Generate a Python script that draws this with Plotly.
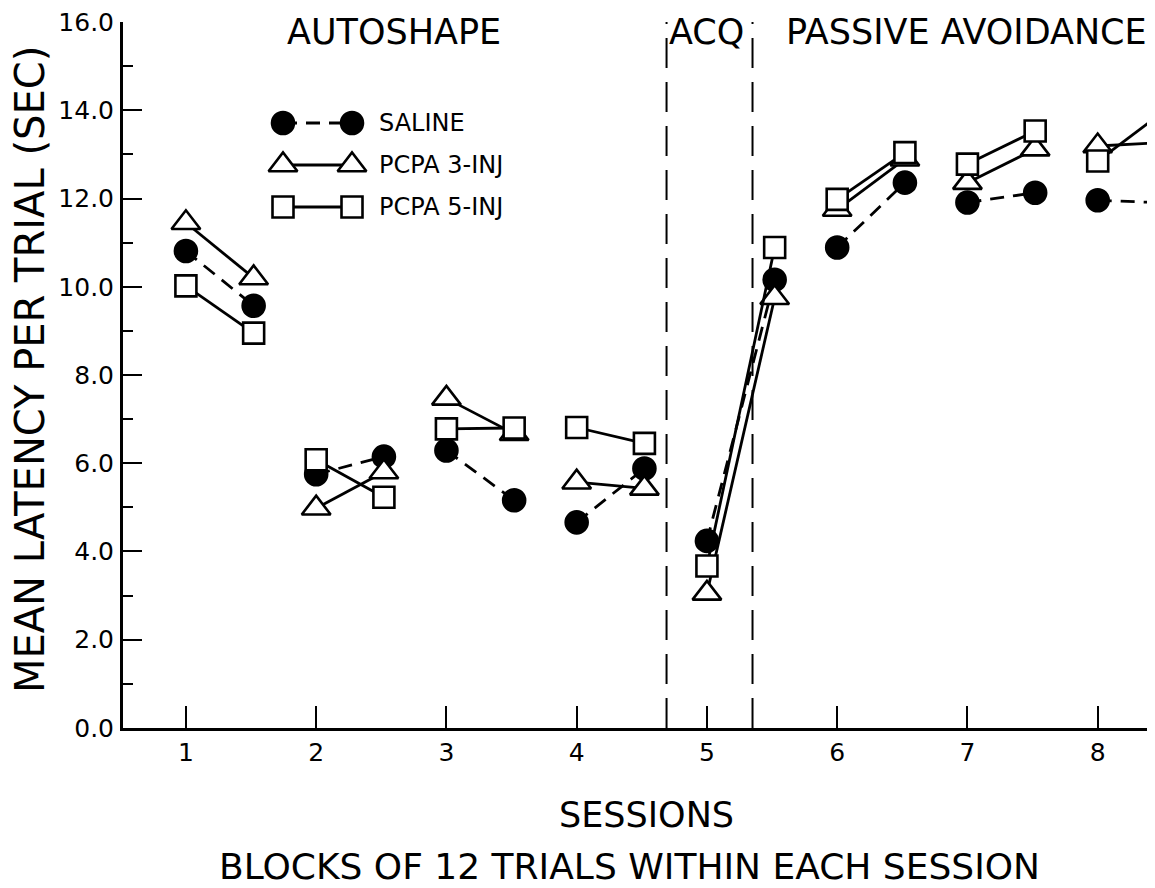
import plotly.graph_objects as go

# ---------------- data ----------------
sessions = [1, 2, 3, 4, 5, 6, 7, 8]
block_offset = 0.52  # second block of 12 trials within each session

saline_b1 = [10.81, 5.75, 6.29, 4.66, 4.24, 10.89, 11.91, 11.96]
saline_b2 = [9.57, 6.15, 5.16, 5.88, 10.16, 12.36, 12.13, 11.90]
pcpa3_b1 = [11.45, 4.98, 7.47, 5.57, 3.05, 11.75, 12.36, 13.19]
pcpa3_b2 = [10.20, 5.80, 6.67, 5.43, 9.75, 12.89, 13.12, 13.27]
pcpa5_b1 = [10.02, 6.08, 6.78, 6.81, 3.67, 11.98, 12.78, 12.85]
pcpa5_b2 = [8.95, 5.23, 6.80, 6.45, 10.89, 13.04, 13.53, 14.00]

series_names = ["SALINE", "PCPA 3-INJ", "PCPA 5-INJ"]
phase_labels = ["AUTOSHAPE", "ACQ", "PASSIVE AVOIDANCE"]
phase_label_x = [2.6, 5.0, 6.99]
phase_bounds = [4.69, 5.35]
y_ticks = [0, 2, 4, 6, 8, 10, 12, 14, 16]

FONT = "DejaVu Sans"


def pairs(b1, b2):
    xs, ys = [], []
    for s, a, b in zip(sessions, b1, b2):
        xs += [s, s + block_offset, None]
        ys += [a, b, None]
    return xs, ys


styles = [
    dict(symbol="circle", size=22, color="black", dash="14px,9px"),
    dict(symbol="triangle-up", size=25, color="white", dash="solid"),
    dict(symbol="square", size=21, color="white", dash="solid"),
]
data = [(saline_b1, saline_b2), (pcpa3_b1, pcpa3_b2), (pcpa5_b1, pcpa5_b2)]

fig = go.Figure()
for name, (b1, b2), st in zip(series_names, data, styles):
    xs, ys = pairs(b1, b2)
    fig.add_trace(go.Scatter(
        x=xs, y=ys, mode="lines+markers", name=name, showlegend=False,
        line=dict(color="black", width=2.8, dash=st["dash"]),
        marker=dict(symbol=st["symbol"], size=st["size"], color=st["color"],
                    line=dict(color="black", width=2.6)),
        cliponaxis=True,
    ))

# ---------- hand-drawn style legend on an overlay axis (pixel units) ----------
legend_rows = [123, 165, 207]
for name, st, yy in zip(series_names, styles, legend_rows):
    fig.add_trace(go.Scatter(
        x=[283, 352], y=[yy, yy], xaxis="x2", yaxis="y2", mode="lines+markers",
        showlegend=False, hoverinfo="skip",
        line=dict(color="black", width=2.8, dash=st["dash"]),
        marker=dict(symbol=st["symbol"], size=st["size"], color=st["color"],
                    line=dict(color="black", width=2.6)),
    ))
    fig.add_annotation(x=377, y=yy, xref="x2", yref="y2", text=name,
                       showarrow=False, xanchor="left", yanchor="middle",
                       font=dict(family=FONT, size=24, color="black"))

# phase separators
for xb in phase_bounds:
    fig.add_shape(type="line", xref="x", yref="paper", x0=xb, x1=xb, y0=0, y1=1.0,
                  line=dict(color="black", width=2, dash="30px,14px"))

# phase labels
for lab, xl in zip(phase_labels, phase_label_x):
    fig.add_annotation(x=xl, y=1.0, xref="x", yref="paper", text=lab,
                       showarrow=False, xanchor="center", yanchor="middle",
                       yshift=-10,
                       font=dict(family=FONT, size=35, color="black"))

# axis titles
fig.add_annotation(x=0, y=0.507, xref="paper", yref="paper",
                   text="MEAN LATENCY PER TRIAL (SEC)", textangle=-90,
                   showarrow=False, xanchor="center", yanchor="middle", xshift=-93,
                   font=dict(family=FONT, size=40, color="black"))
fig.add_annotation(x=0.507, y=0, xref="paper", yref="paper", text="SESSIONS",
                   showarrow=False, xanchor="center", yanchor="middle", yshift=-87,
                   font=dict(family=FONT, size=35, color="black"))
fig.add_annotation(x=0.491, y=0, xref="paper", yref="paper",
                   text="BLOCKS OF 12 TRIALS WITHIN EACH SESSION",
                   showarrow=False, xanchor="center", yanchor="middle", yshift=-138,
                   font=dict(family=FONT, size=36, color="black"))

fig.update_layout(
    width=1147, height=880,
    margin=dict(l=115, r=0, t=14, b=160),
    paper_bgcolor="white", plot_bgcolor="white",
    showlegend=False,
    xaxis=dict(
        range=[0.517, 8.44], tickmode="array", tickvals=sessions,
        ticktext=[str(s) for s in sessions],
        ticks="inside", ticklen=22, tickwidth=2, tickcolor="black",
        showline=True, linecolor="black", linewidth=3,
        showgrid=False, zeroline=False,
        tickfont=dict(family=FONT, size=25, color="black"),
        ticklabelstandoff=0,
    ),
    yaxis=dict(
        range=[-0.0005, 16.0005], tickmode="array", tickvals=y_ticks,
        ticktext=[f"{v:.1f}" for v in y_ticks],
        ticks="inside", ticklen=19, tickwidth=2, tickcolor="black",
        minor=dict(dtick=1, tick0=0, ticks="inside", ticklen=10, tickwidth=2,
                   tickcolor="black", showgrid=False),
        showline=True, linecolor="black", linewidth=3,
        showgrid=False, zeroline=False,
        tickfont=dict(family=FONT, size=25, color="black"),
        ticklabelstandoff=1, ticklabeloverflow="allow",
    ),
    xaxis2=dict(overlaying="x", range=[123, 1155], visible=False, fixedrange=True),
    yaxis2=dict(overlaying="y", range=[728, 22], visible=False, fixedrange=True),
)

fig.write_html("out.html")
